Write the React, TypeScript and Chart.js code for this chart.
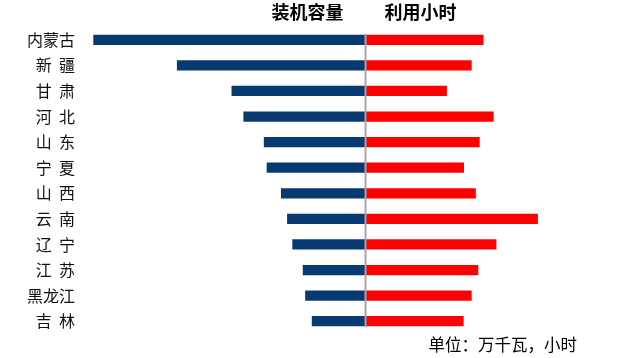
import React, { useEffect, useRef } from 'react';
import { Chart, registerables } from 'chart.js';

Chart.register(...registerables);

// ---- data ----
const provinces = ['内蒙古', '新  疆', '甘  肃', '河  北', '山  东', '宁  夏', '山  西', '云  南', '辽  宁', '江  苏', '黑龙江', '吉  林'];
const capacity = [2860, 1980, 1405, 1280, 1065, 1035, 885, 820, 765, 655, 630, 560]; // 万千瓦
const hours = [1700, 1530, 1175, 1845, 1645, 1420, 1590, 2480, 1885, 1625, 1530, 1415]; // 小时
const seriesNames = ['装机容量', '利用小时'];
const unitNote = '单位：万千瓦，小时';
const capacityMax = 3000;
const hoursMax = 3500;

const FONT = '"Noto Sans CJK SC", "Noto Sans", sans-serif';

const overlayPlugin = {
  id: 'overlay',
  afterDatasetsDraw(chart: any) {
    const { ctx } = chart;
    const xR = chart.scales.xR;
    const y = chart.scales.y;
    const mid = xR.getPixelForValue(0) + 0.5;
    const band = y.getPixelForTick(1) - y.getPixelForTick(0);
    const top = y.getPixelForTick(0) - band * 0.2 - 1;
    const bottom = y.getPixelForTick(provinces.length - 1) + band * 0.2 + 1;
    ctx.save();
    ctx.strokeStyle = '#A6A6A6';
    ctx.lineWidth = 2;
    ctx.beginPath();
    ctx.moveTo(mid, top);
    ctx.lineTo(mid, bottom);
    ctx.stroke();

    ctx.fillStyle = '#000';
    ctx.textBaseline = 'middle';
    ctx.textAlign = 'center';
    ctx.font = 'bold 18px ' + FONT;
    ctx.fillText(seriesNames[0], mid - 58, 12);
    ctx.fillText(seriesNames[1], mid + 55, 12);

    ctx.font = '16.5px ' + FONT;
    ctx.textAlign = 'right';
    ctx.fillText(unitNote, xR.right - 32, 345);
    ctx.restore();
  },
};

export default function App() {
  const canvasRef = useRef<HTMLCanvasElement | null>(null);

  useEffect(() => {
    if (!canvasRef.current) return;
    Chart.defaults.font.family = FONT;
    const chart = new Chart(canvasRef.current, {
      type: 'bar',
      data: {
        labels: provinces,
        datasets: [
          {
            label: seriesNames[0],
            data: capacity,
            xAxisID: 'xL',
            yAxisID: 'y',
            backgroundColor: '#083A72',
            grouped: false,
            barPercentage: 0.4,
            categoryPercentage: 1,
          } as any,
          {
            label: seriesNames[1],
            data: hours,
            xAxisID: 'xR',
            yAxisID: 'y',
            backgroundColor: '#FF0000',
            grouped: false,
            barPercentage: 0.4,
            categoryPercentage: 1,
          } as any,
        ],
      },
      options: {
        indexAxis: 'y',
        responsive: false,
        animation: false,
        layout: { padding: { left: 27, right: 10, top: 27, bottom: 24 } },
        plugins: {
          legend: { display: false },
          title: { display: false },
          tooltip: { enabled: false },
        },
        scales: {
          xL: {
            type: 'linear',
            position: 'bottom',
            stack: 'x',
            stackWeight: 285,
            reverse: true,
            min: 0,
            max: capacityMax,
            grid: { display: false, drawTicks: false },
            border: { display: false },
            ticks: { display: false },
          },
          xR: {
            type: 'linear',
            position: 'bottom',
            stack: 'x',
            stackWeight: 244,
            min: 0,
            max: hoursMax,
            grid: { display: false, drawTicks: false },
            border: { display: false },
            ticks: { display: false },
          },
          y: {
            type: 'category',
            position: 'left',
            afterFit: (scale: any) => { scale.width = 53; },
            grid: { display: false, drawTicks: false },
            border: { display: false },
            ticks: {
              padding: 5,
              color: '#111',
              font: { size: 16, family: FONT },
            },
          },
        } as any,
      },
      plugins: [overlayPlugin],
    });
    return () => chart.destroy();
  }, []);

  return (
    <div style={{ position: 'fixed', left: 0, top: 0, width: 619, height: 358, background: '#fff' }}>
      <canvas ref={canvasRef} width={619} height={358} style={{ display: 'block', width: 619, height: 358 }} />
    </div>
  );
}
